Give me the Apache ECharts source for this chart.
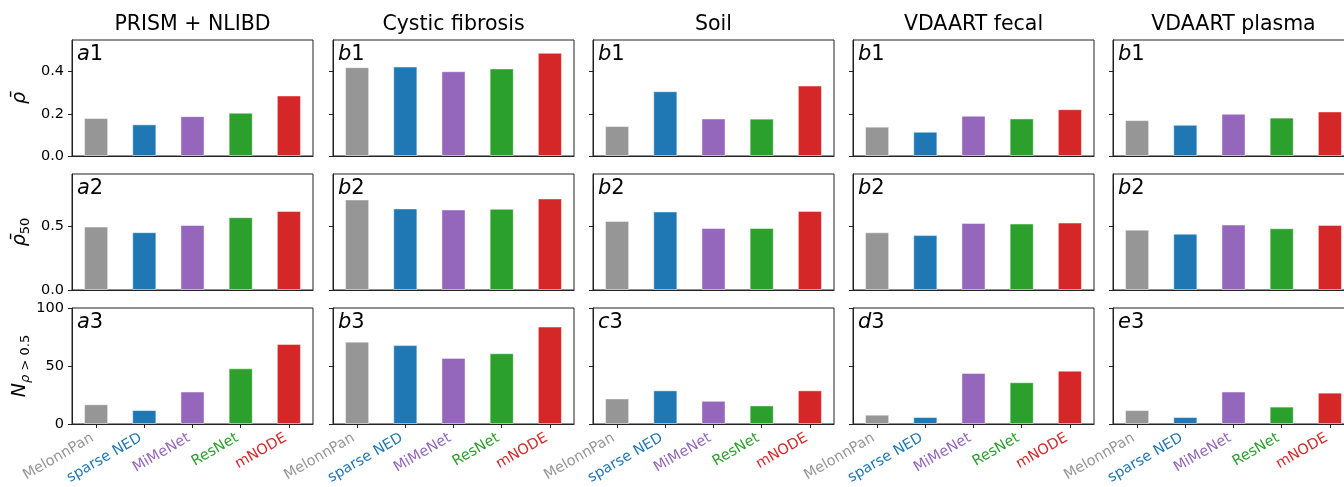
<!DOCTYPE html>
<html>
<head>
<meta charset="utf-8">
<script src="https://cdn.jsdelivr.net/npm/echarts@6/dist/echarts.min.js"></script>
<style>
  html, body { margin: 0; padding: 0; background: #fff; }
  #chart { width: 1344px; height: 487px; }
</style>
</head>
<body>
<div id="chart"></div>
<script>
const methods = ['MelonnPan', 'sparse NED', 'MiMeNet', 'ResNet', 'mNODE'];
const datasets = ['PRISM + NLIBD', 'Cystic fibrosis', 'Soil', 'VDAART fecal', 'VDAART plasma'];

// row 1: mean rho, one list per dataset (methods in order)
const rhoMean = [
  [0.180, 0.150, 0.189, 0.205, 0.287],
  [0.421, 0.424, 0.402, 0.415, 0.489],
  [0.142, 0.307, 0.178, 0.177, 0.334],
  [0.139, 0.115, 0.191, 0.178, 0.222],
  [0.170, 0.148, 0.200, 0.182, 0.211],
];
// row 2: mean rho of top 50
const rhoTop50 = [
  [0.500, 0.456, 0.513, 0.574, 0.623],
  [0.714, 0.643, 0.635, 0.640, 0.722],
  [0.545, 0.619, 0.489, 0.489, 0.624],
  [0.455, 0.433, 0.529, 0.524, 0.532],
  [0.476, 0.444, 0.516, 0.487, 0.513],
];
// row 3: number of metabolites with rho > 0.5
const nAbove = [
  [17, 12, 28, 48, 69],
  [71, 68, 57, 61, 84],
  [22, 29, 20, 16, 29],
  [8, 6, 44, 36, 46],
  [12, 6, 28, 15, 27],
];
const panelTags = [
  ['a1', 'b1', 'b1', 'b1', 'b1'],
  ['a2', 'b2', 'b2', 'b2', 'b2'],
  ['a3', 'b3', 'c3', 'd3', 'e3'],
];
const rhoTicks = [0, 0.2, 0.4];
const rho50Ticks = [0, 0.5];
const countTicks = [0, 50, 100];

const methodColors = ['#969696', '#1f77b4', '#9467bd', '#2ca02c', '#d62728'];
const FONT = '"DejaVu Sans", sans-serif';
const INK = '#222';

const rows = [
  { values: rhoMean, max: 0.55, ticks: rhoTicks, digits: 1, name: '{r|ρ̄}' },
  { values: rhoTop50, max: 0.915, ticks: rho50Ticks, digits: 1, name: '{r|ρ̄}{s|50}' },
  { values: nAbove, max: 100, ticks: countTicks, digits: 0, name: '{r|N}{t|ρ}{s| > 0.5}' },
];

const colLeft = [72, 333, 593, 853, 1113];
const rowTop = [40, 174, 308];
const W = 241, H = 116;

const grid = [], xAxis = [], yAxis = [], series = [], graphic = [];

rows.forEach((row, r) => {
  datasets.forEach((ds, c) => {
    const k = grid.length;
    grid.push({
      left: colLeft[c], top: rowTop[r], width: W, height: H,
      show: true, borderColor: INK, borderWidth: 1,
      containLabel: false, outerBoundsMode: 'none',
    });
    xAxis.push({
      type: 'category', gridIndex: k, data: methods,
      axisLine: { lineStyle: { color: INK } },
      axisTick: { show: r === 2, alignWithLabel: true, length: 4, lineStyle: { color: INK } },
      axisLabel: {
        show: r === 2, rotate: 30, margin: 11, padding: [0, 4, 0, 0],
        fontSize: 14.5, fontFamily: FONT,
        color: (v) => methodColors[methods.indexOf(v)],
      },
    });
    yAxis.push({
      type: 'value', gridIndex: k, min: 0, max: row.max,
      axisLine: { show: true, lineStyle: { color: INK } },
      axisTick: { show: true, length: 4, customValues: row.ticks, lineStyle: { color: INK } },
      axisLabel: {
        show: c === 0, customValues: row.ticks, margin: 8,
        fontSize: 14.5, fontFamily: FONT, color: '#000',
        formatter: (v) => Number(v).toFixed(row.digits),
      },
      splitLine: { show: false },
      name: c === 0 ? row.name : '',
      nameLocation: 'middle', nameGap: 40,
      nameTextStyle: {
        rich: {
          r: { fontSize: 19, fontStyle: 'italic', fontFamily: FONT, color: '#000', lineHeight: 24 },
          t: { fontSize: 13, fontStyle: 'italic', fontFamily: FONT, color: '#000', verticalAlign: 'bottom', lineHeight: 12 },
          s: { fontSize: 13, fontFamily: FONT, color: '#000', verticalAlign: 'bottom', lineHeight: 12 },
        },
      },
    });
    series.push({
      type: 'bar', xAxisIndex: k, yAxisIndex: k,
      data: row.values[c], barWidth: '50%',
      itemStyle: {
        color: (p) => methodColors[p.dataIndex],
        borderColor: 'rgba(255,255,255,0.45)', borderWidth: 1,
      },
      silent: true,
    });
    const tag = panelTags[r][c];
    graphic.push({
      type: 'text', x: colLeft[c] + 5, y: rowTop[r] + 15,
      style: {
        text: '{i|' + tag[0] + '}{n|' + tag.slice(1) + '}',
        verticalAlign: 'middle',
        rich: {
          i: { font: 'italic 21px ' + FONT, fill: '#000' },
          n: { font: '21px ' + FONT, fill: '#000' },
        },
      },
    });
  });
});

datasets.forEach((ds, c) => {
  graphic.push({
    type: 'text', x: colLeft[c] + W / 2, y: 25,
    style: { text: ds, font: '20.5px ' + FONT, fill: '#000', align: 'center', verticalAlign: 'middle' },
  });
});

const chart = echarts.init(document.getElementById('chart'), null, { renderer: 'canvas' });
chart.setOption({
  animation: false,
  backgroundColor: '#fff',
  textStyle: { fontFamily: FONT },
  grid, xAxis, yAxis, series, graphic,
});
</script>
</body>
</html>
